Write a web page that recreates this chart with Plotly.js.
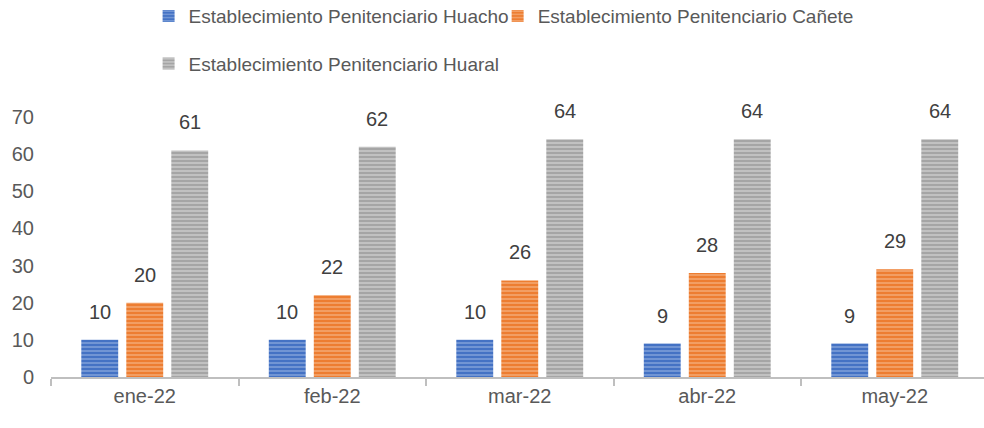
<!DOCTYPE html>
<html>
<head>
<meta charset="utf-8">
<script src="https://cdn.plot.ly/plotly-3.0.1.min.js"></script>
<style>html,body{margin:0;padding:0;overflow:hidden;background:#fff}#chart{width:984px;height:428px}</style>
</head>
<body>
<div id="chart"></div>
<script>
const categories = ['ene-22', 'feb-22', 'mar-22', 'abr-22', 'may-22'];
const seriesNames = ['Establecimiento Penitenciario Huacho', 'Establecimiento Penitenciario Cañete', 'Establecimiento Penitenciario Huaral'];
const huacho = [10, 10, 10, 9, 9];
const canete = [20, 22, 26, 28, 29];
const huaral = [61, 62, 64, 64, 64];
const yTicks = [0, 10, 20, 30, 40, 50, 60, 70];

const FONT = 'Liberation Sans, Arial, sans-serif';
const TXT = '#595959';
const series = [huacho, canete, huaral];
const baseColors = ['#4472C4', '#ED7D31', '#A5A5A5'];
const stripeColors = ['#a9bfe8', '#f9c6a0', '#e2e2e2'];
const legends = ['legend', 'legend2', 'legend3'];

const traces = series.map((vals, i) => ({
  type: 'bar',
  name: seriesNames[i],
  x: categories,
  y: vals,
  legend: legends[i],
  marker: {
    color: baseColors[i],
    line: {width: 0},
    pattern: {shape: '-', fgcolor: stripeColors[i], bgcolor: baseColors[i], size: 4, solidity: 0.45, fillmode: 'overlay'}
  },
  hoverinfo: 'x+y+name'
}));

const groupShift = [-45, 0, 45];
const annotations = [];
series.forEach((vals, i) => {
  vals.forEach((v, j) => {
    annotations.push({
      x: categories[j], y: v, xref: 'x', yref: 'y',
      text: String(v), showarrow: false,
      xshift: groupShift[i], yshift: 28, yanchor: 'middle', xanchor: 'center',
      font: {family: FONT, size: 20, color: '#404040'}
    });
  });
});

const legendBase = {
  orientation: 'h', xanchor: 'left', yanchor: 'middle',
  font: {family: FONT, size: 19, color: TXT},
  itemclick: false, itemdoubleclick: false, bgcolor: 'rgba(0,0,0,0)'
};

const layout = {
  width: 984, height: 428,
  margin: {l: 51, r: 0, t: 117, b: 51, autoexpand: false},
  paper_bgcolor: '#ffffff', plot_bgcolor: '#ffffff',
  barmode: 'group', bargap: 0.28, bargroupgap: 0.18,
  font: {family: FONT, size: 20, color: TXT},
  showlegend: true,
  legend: Object.assign({}, legendBase, {x: 0.1046, y: 1.388}),
  legend2: Object.assign({}, legendBase, {x: 0.4787, y: 1.388}),
  legend3: Object.assign({}, legendBase, {x: 0.1046, y: 1.205}),
  xaxis: {
    type: 'category', range: [-0.5, 4.476],
    showgrid: false, zeroline: false,
    showline: true, linecolor: '#bfbfbf', linewidth: 2,
    ticks: 'outside', tickson: 'boundaries', ticklen: 7, tickcolor: '#bfbfbf', tickwidth: 2,
    tickfont: {family: FONT, size: 20, color: TXT},
    fixedrange: true
  },
  yaxis: {
    range: [0, 70], tickvals: yTicks, ticktext: yTicks.map(String),
    showgrid: false, zeroline: false, showline: false, ticks: '',
    ticklabelstandoff: 16,
    tickfont: {family: FONT, size: 20, color: TXT},
    fixedrange: true
  },
  annotations: annotations
};

Plotly.newPlot('chart', traces, layout, {displayModeBar: false, staticPlot: false});
</script>
</body>
</html>
